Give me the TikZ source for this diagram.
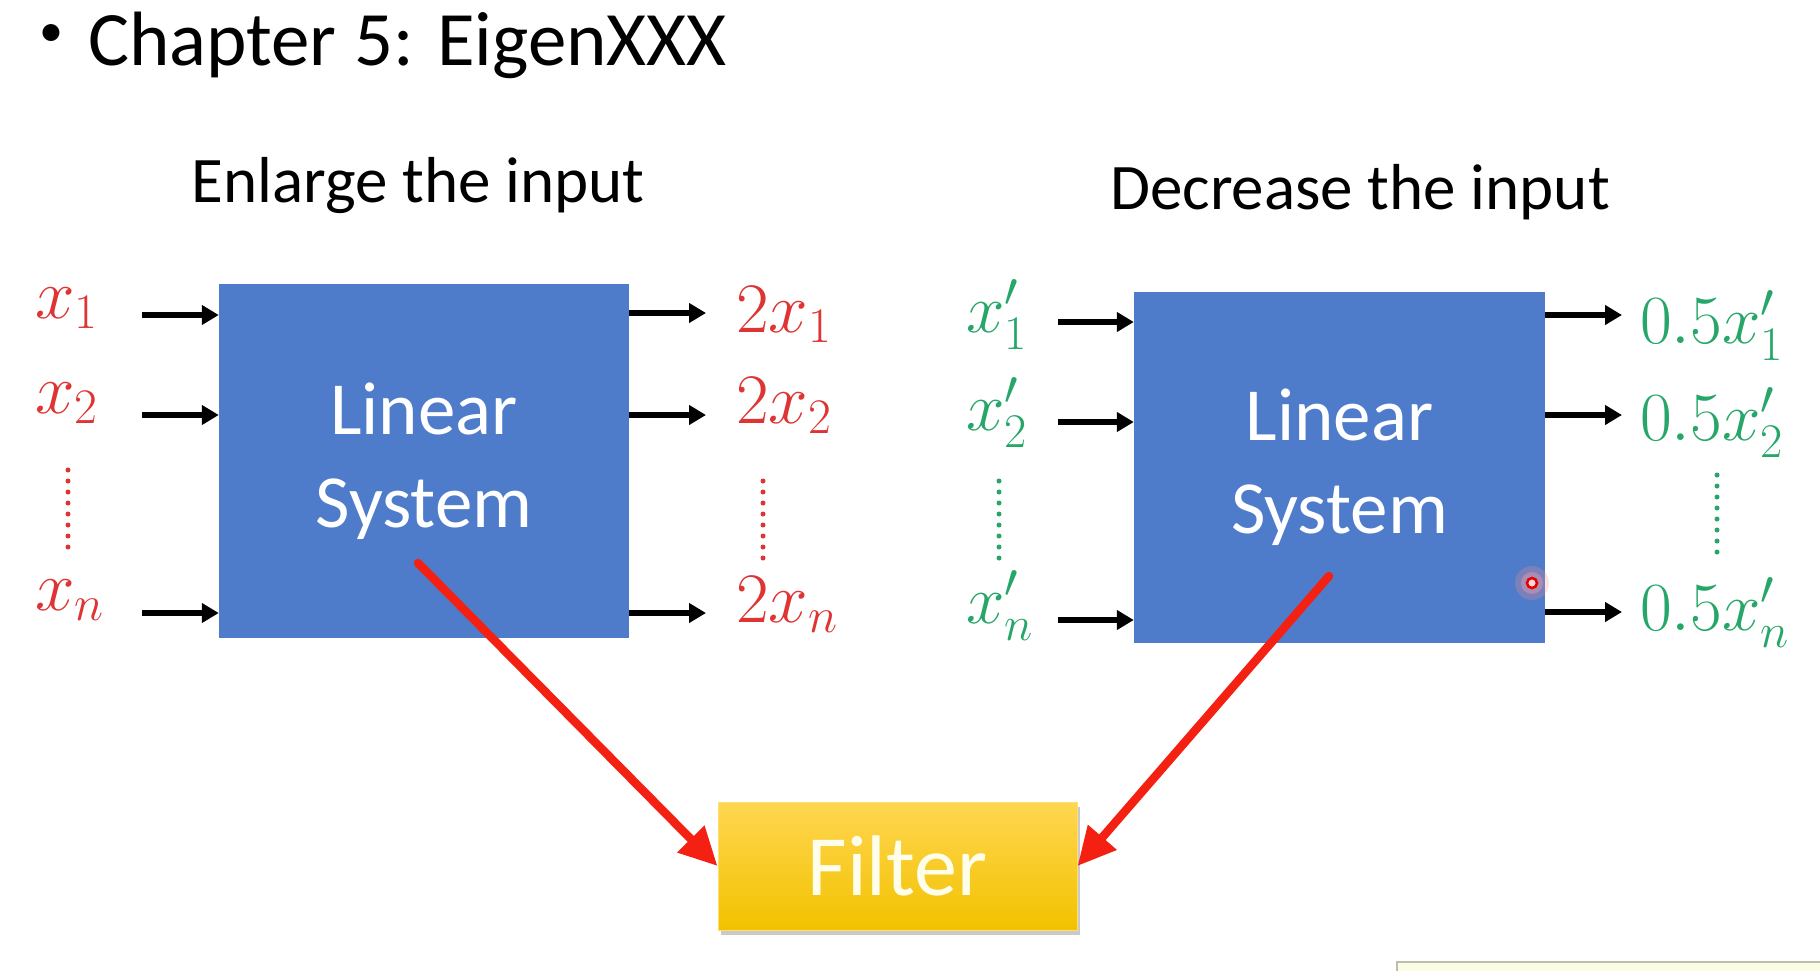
\RequirePackage{fix-cm}
\documentclass[tikz,border=0pt]{standalone}
\usepackage{fontspec}
\setmainfont{Carlito}
\usetikzlibrary{arrows.meta,shadows}
\definecolor{sysblue}{RGB}{79,124,202}
\definecolor{lblred}{RGB}{222,52,52}
\definecolor{lblgreen}{RGB}{38,166,104}
\definecolor{arrred}{RGB}{244,32,18}
\definecolor{goldtop}{RGB}{255,214,80}
\definecolor{goldbot}{RGB}{242,194,0}
\definecolor{notefill}{RGB}{250,252,228}
\definecolor{noteborder}{RGB}{190,190,170}
\tikzset{
  sysbox/.style={draw=none, fill=sysblue, text=white, align=center, inner sep=0pt,
    font=\fontsize{75}{93}\selectfont},
  headtext/.style={font=\fontsize{65}{78}\selectfont, inner sep=0pt},
  redlbl/.style={text=lblred, font=\fontsize{71}{80}\selectfont, inner sep=0pt, anchor=base west},
  greenlbl/.style={text=lblgreen, font=\fontsize{69}{80}\selectfont, inner sep=0pt, anchor=base west},
  ioarrow/.style={line width=5.5pt, -{Triangle[length=17pt,width=19pt]}},
  bigarrow/.style={arrred, line width=8.5pt, line cap=round, -{Triangle[length=38pt,width=36pt]}},
  vdots/.style={line width=5pt, line cap=round, dash pattern=on 0pt off 11pt},
}
\begin{document}
\begin{tikzpicture}[x=1pt,y=-1pt]
\useasboundingbox (0,0) rectangle (1820,970);
\fill[white] (0,0) rectangle (1820,970);

% title
\node[inner sep=0pt, font=\fontsize{48}{52}\selectfont] (bullet) at (51,36) {•};
\node[anchor=base west, inner sep=0pt, font=\fontsize{77}{90}\selectfont] (title) at (88,65) {Chapter 5: EigenXXX};

% headings
\node[headtext, anchor=base] (lhead) at (418,202) {Enlarge the input};
\node[headtext, anchor=base] (rhead) at (1360,209) {Decrease the input};

% boxes
\node[sysbox, minimum width=410pt, minimum height=354pt] (lsys) at (424,461) {Linear\\System};
\node[sysbox, minimum width=411pt, minimum height=351pt] (rsys) at (1339.5,467.5) {Linear\\System};
\node[draw=goldtop!80!white, line width=1pt, top color=goldtop, bottom color=goldbot, text=white!92!yellow,
  minimum width=359pt, minimum height=128pt, inner sep=0pt,
  font=\fontsize{86}{100}\selectfont,
  drop shadow={shadow xshift=3pt, shadow yshift=-5pt, opacity=0.35, fill=black!60}] (filter) at (897.5,866) {Filter};

% left inputs
\node[redlbl] (lx1) at (35,318) {$x_1$};
\node[redlbl] (lx2) at (35,413) {$x_2$};
\node[redlbl] (lxn) at (35,610) {$x_n$};
\coordinate (lda) at (68,470);
\coordinate (ldb) at (68,548);
\draw[vdots, lblred] (lda) -- (ldb);
\coordinate (li1) at (142,315);
\coordinate (li2) at (142,415);
\coordinate (lin) at (142,613);
\draw[ioarrow] (li1) -- (li1 -| lsys.west);
\draw[ioarrow] (li2) -- (li2 -| lsys.west);
\draw[ioarrow] (lin) -- (lin -| lsys.west);

% left outputs
\coordinate (lo1) at (706,313);
\coordinate (lo2) at (706,415);
\coordinate (lon) at (706,613);
\draw[ioarrow] (lo1 -| lsys.east) -- (lo1);
\draw[ioarrow] (lo2 -| lsys.east) -- (lo2);
\draw[ioarrow] (lon -| lsys.east) -- (lon);
\node[redlbl] (ly1) at (736,332) {$2x_1$};
\node[redlbl] (ly2) at (736,423) {$2x_2$};
\node[redlbl] (lyn) at (736,622) {$2x_n$};
\coordinate (loda) at (763,481);
\coordinate (lodb) at (763,560);
\draw[vdots, lblred] (loda) -- (lodb);

% right inputs
\node[greenlbl] (rx1) at (966,332) {$x_1'$};
\node[greenlbl] (rx2) at (966,430) {$x_2'$};
\node[greenlbl] (rxn) at (966,623) {$x_n'$};
\coordinate (rda) at (999,481);
\coordinate (rdb) at (999,560);
\draw[vdots, lblgreen] (rda) -- (rdb);
\coordinate (ri1) at (1058,322);
\coordinate (ri2) at (1058,422);
\coordinate (rin) at (1058,620);
\draw[ioarrow] (ri1) -- (ri1 -| rsys.west);
\draw[ioarrow] (ri2) -- (ri2 -| rsys.west);
\draw[ioarrow] (rin) -- (rin -| rsys.west);

% right outputs
\coordinate (ro1) at (1622,315);
\coordinate (ro2) at (1622,415);
\coordinate (ron) at (1622,612);
\draw[ioarrow] (ro1 -| rsys.east) -- (ro1);
\draw[ioarrow] (ro2 -| rsys.east) -- (ro2);
\draw[ioarrow] (ron -| rsys.east) -- (ron);
\node[greenlbl] (ry1) at (1640,343) {$0.5x_1'$};
\node[greenlbl] (ry2) at (1640,440) {$0.5x_2'$};
\node[greenlbl] (ryn) at (1640,630) {$0.5x_n'$};
\coordinate (roda) at (1717,475);
\coordinate (rodb) at (1717,556);
\draw[vdots, lblgreen] (roda) -- (rodb);

% red arrows to filter
\coordinate (la) at (418,563);
\coordinate (ra) at (1329,576);
\draw[bigarrow] (la) -- (filter.west);
\draw[bigarrow] (ra) -- (filter.east);

% laser pointer
\coordinate (ptr) at (1532,583);
\fill[red!45, opacity=0.25] (ptr) circle (17);
\fill[red!35, opacity=0.35] (ptr) circle (11);
\draw[red!90!black, line width=2.5pt, fill=white!85!red] (ptr) circle (5);

% partial box at bottom right
\draw[noteborder, line width=1.5pt, fill=notefill] (1397,962) rectangle (1830,990);
\end{tikzpicture}
\end{document}
